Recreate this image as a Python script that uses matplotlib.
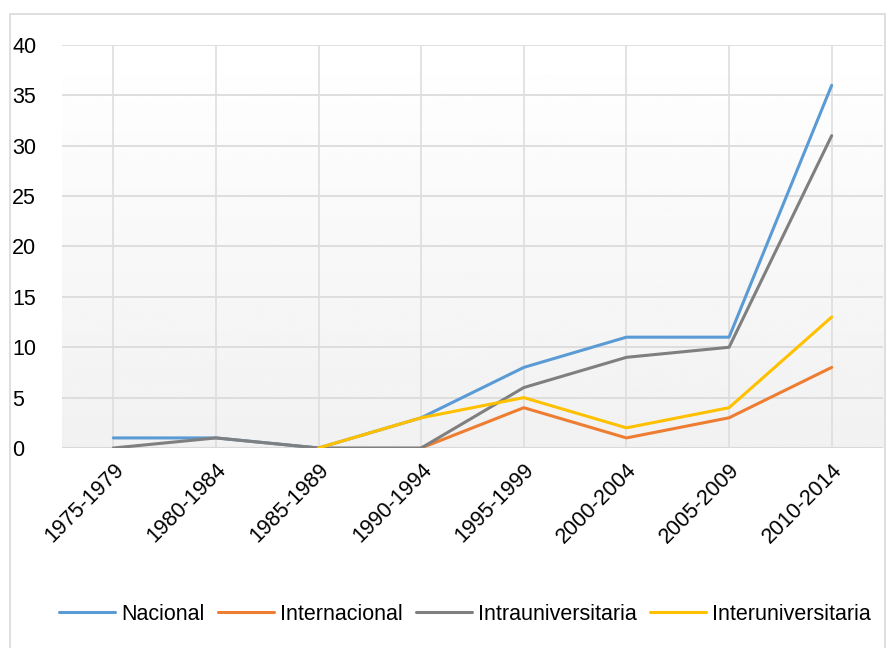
import matplotlib.pyplot as plt
import numpy as np
from matplotlib.patches import Rectangle

periods = ["1975-1979", "1980-1984", "1985-1989", "1990-1994",
           "1995-1999", "2000-2004", "2005-2009", "2010-2014"]
nacional = [1, 1, 0, 3, 8, 11, 11, 36]
internacional = [np.nan, np.nan, np.nan, 0, 4, 1, 3, 8]
intrauniversitaria = [0, 1, 0, 0, 6, 9, 10, 31]
interuniversitaria = [np.nan, np.nan, 0, 3, 5, 2, 4, 13]

plt.rcParams["font.family"] = ["Liberation Sans", "DejaVu Sans"]

fig = plt.figure(figsize=(8.96, 6.48), dpi=100)
ax = fig.add_axes([62 / 896, 1 - 448 / 648, 821 / 896, 403 / 648])

# marco exterior del gráfico
fig.patches.append(Rectangle((10 / 896, -0.01), 875 / 896, 1 - 14 / 648 + 0.01,
                             transform=fig.transFigure, fill=False,
                             edgecolor="#d9d9d9", linewidth=1.2))

x = np.arange(len(periods))

# fondo degradado (blanco arriba, gris claro abajo)
grad = np.linspace(1.0, 0.945, 256).reshape(-1, 1)
ax.imshow(grad, cmap="gray", vmin=0, vmax=1, aspect="auto",
          extent=(-0.5, 7.5, 0, 40), origin="upper", zorder=0)

for yv in range(5, 45, 5):
    ax.axhline(yv, color="#d9d9d9", linewidth=1.2, zorder=1)
for xv in x:
    ax.axvline(xv, color="#dedede", linewidth=1.2, zorder=1)
ax.axhline(0, color="#d9d9d9", linewidth=1.5, zorder=1)

series = [
    ("Nacional", nacional, "#5b9bd5"),
    ("Internacional", internacional, "#ed7d31"),
    ("Intrauniversitaria", intrauniversitaria, "#7f7f7f"),
    ("Interuniversitaria", interuniversitaria, "#ffc000"),
]
for name, vals, col in series:
    ax.plot(x, vals, color=col, linewidth=2.2, label=name, zorder=3,
            solid_capstyle="round")

ax.set_xlim(-0.5, 7.5)
ax.set_ylim(0, 40)
ax.set_yticks(range(0, 45, 5))
ax.set_xticks(x)
ax.set_xticklabels(periods, rotation=45, ha="right", rotation_mode="anchor")
ax.tick_params(axis="both", length=0, labelsize=15.5, colors="black")
ax.tick_params(axis="x", pad=8)
ax.tick_params(axis="y", pad=36)
for lbl in ax.get_yticklabels():
    lbl.set_horizontalalignment("left")
for s in ax.spines.values():
    s.set_visible(False)

fig.legend(loc="center", bbox_to_anchor=(465 / 896, 1 - 614 / 648), ncol=4,
           frameon=False, fontsize=15.5, handlelength=2.6, handletextpad=0.3,
           columnspacing=0.6)

fig.savefig("out.png", dpi=100)
